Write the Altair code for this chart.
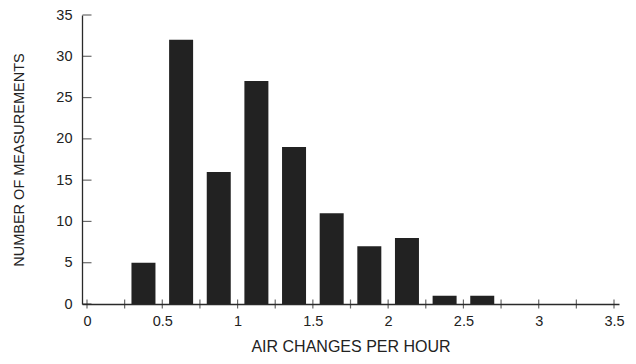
import altair as alt
import pandas as pd

bin_centers = [0.375, 0.625, 0.875, 1.125, 1.375, 1.625, 1.875, 2.125, 2.375, 2.625]
counts = [5, 32, 16, 27, 19, 11, 7, 8, 1, 1]
x_tick_values = [i * 0.25 for i in range(15)]
x_label_values = [0, 0.5, 1, 1.5, 2, 2.5, 3, 3.5]
y_tick_values = [0, 5, 10, 15, 20, 25, 30, 35]

bars_df = pd.DataFrame({"x": bin_centers, "n": counts})
xt_df = pd.DataFrame({"x": x_tick_values, "y": [0] * len(x_tick_values)})
yt_df = pd.DataFrame({"y": y_tick_values, "x": [0] * len(y_tick_values)})

FONT = "Liberation Sans"
ink = "#2a2a2a"

xscale = alt.Scale(domain=[0, 3.5], nice=False, zero=False)
yscale = alt.Scale(domain=[0, 35], nice=False)

bars = alt.Chart(bars_df).mark_bar(size=24, color="#222222").encode(
    x=alt.X("x:Q", scale=xscale,
            axis=alt.Axis(values=x_label_values, title="AIR CHANGES PER HOUR",
                          ticks=False, grid=False, labelPadding=10, titlePadding=11,
                          labelFlush=False, format="~g", titleFontSize=16)),
    y=alt.Y("n:Q", scale=yscale,
            axis=alt.Axis(values=y_tick_values, title="NUMBER OF MEASUREMENTS",
                          ticks=False, grid=False, labelPadding=10, titlePadding=29,
                          titleFontSize=14.5)),
)

xticks = alt.Chart(xt_df).mark_tick(orient="vertical", size=9, thickness=1.2, color=ink).encode(
    x=alt.X("x:Q", scale=xscale), y=alt.Y("y:Q", scale=yscale)
)
yticks = alt.Chart(yt_df).mark_tick(orient="horizontal", size=9, thickness=1.2, color=ink).encode(
    x=alt.X("x:Q", scale=xscale), y=alt.Y("y:Q", scale=yscale)
)

chart = alt.layer(bars, xticks, yticks).properties(
    width=537, height=289,
    autosize=alt.AutoSizeParams(type="none"),
    padding={"left": 74, "top": 7, "right": 9, "bottom": 52},
).configure_view(stroke=None).configure_axis(
    domainColor=ink, domainWidth=1.3, labelColor="#222222", titleColor="#222222",
    labelFont=FONT, titleFont=FONT, labelFontSize=14.5,
    titleFontWeight="normal",
)

chart.save("out.html", embed_options={"renderer": "svg", "actions": False})
